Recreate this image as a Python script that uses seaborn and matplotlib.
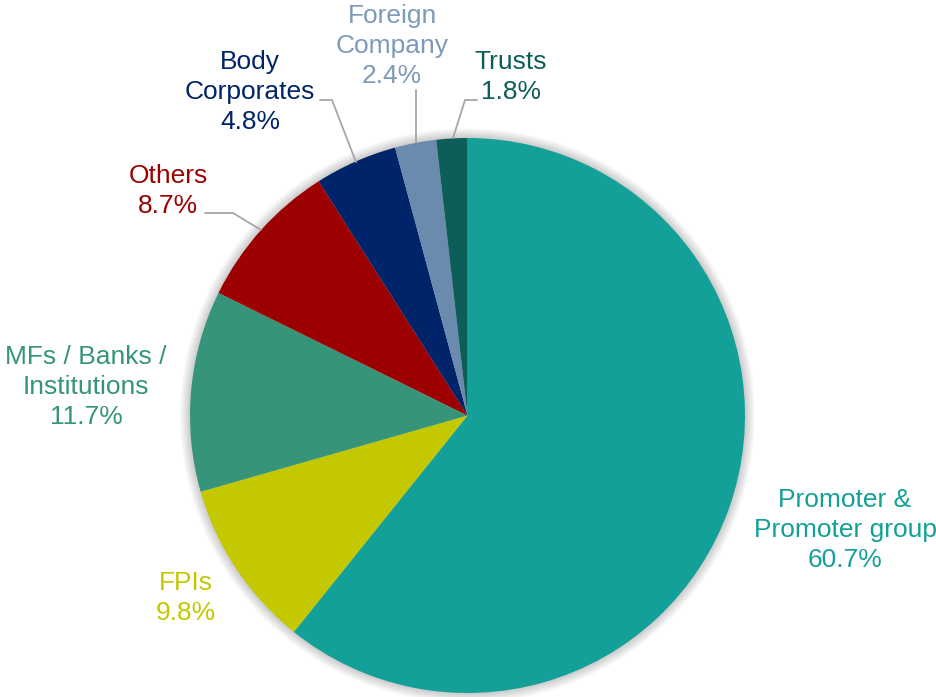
import matplotlib
matplotlib.use("Agg")
import matplotlib.pyplot as plt
import seaborn as sns
import pandas as pd
from matplotlib.patches import Circle

categories = ["Promoter &\nPromoter group", "FPIs", "MFs / Banks /\nInstitutions",
              "Others", "Body\nCorporates", "Foreign\nCompany", "Trusts"]
shares = [60.7, 9.8, 11.7, 8.7, 4.8, 2.4, 1.8]
colors = ["#12A098", "#C3C800", "#36947A", "#9C0000", "#002469", "#6A8BAD", "#0D5E59"]
text_colors = ["#12A098", "#C3C800", "#36947A", "#9C0000", "#002469", "#7D9AB9", "#0D5E59"]

# label anchor points in figure pixel space (x from left, y from top)
label_pos = [(845, 530), (186, 598), (86, 387), (168, 191), (250, 92), (392, 46), (511, 77)]
# leader lines (x, y-from-top) for the small slices
leaders = {
    "Others": [(205, 213), (233, 213), (261, 230)],
    "Body\nCorporates": [(320, 100), (332, 100), (356, 162)],
    "Foreign\nCompany": [(416, 90), (416, 142)],
    "Trusts": [(477, 100), (465, 100), (453, 138)],
}

df = pd.DataFrame({"category": categories, "share": shares, "color": colors,
                   "text_color": text_colors})

sns.set_theme(style="white")
plt.rcParams["font.family"] = ["Liberation Sans", "DejaVu Sans"]

W, H = 936, 697
fig = plt.figure(figsize=(W / 100, H / 100), dpi=100)
ax = fig.add_axes([0, 0, 1, 1])

cx, cy, r = 467.5, H - 415.5, 277.5

# soft halo behind the pie
for i in range(10):
    ax.add_patch(Circle((cx, cy), r + 1 + i * 1.0, color="black", alpha=0.018, lw=0, zorder=0))

ax.pie(df["share"], colors=df["color"], startangle=90, counterclock=False,
       center=(cx, cy), radius=r, frame=True,
       wedgeprops=dict(linewidth=0, zorder=2))
ax.set_xlim(0, W)
ax.set_ylim(0, H)
ax.set_aspect("equal")
ax.axis("off")

for (_, row), (lx, ly) in zip(df.iterrows(), label_pos):
    ax.text(lx, H - ly, f"{row['category']}\n{row['share']:.1f}%", ha="center", va="center",
            color=row["text_color"], fontsize=19, linespacing=1.3, zorder=5)

for name, pts in leaders.items():
    xs = [p[0] for p in pts]
    ys = [H - p[1] for p in pts]
    ax.plot(xs, ys, color="#A6A6A6", lw=1.3, zorder=3)

fig.savefig("out.png", dpi=100)
